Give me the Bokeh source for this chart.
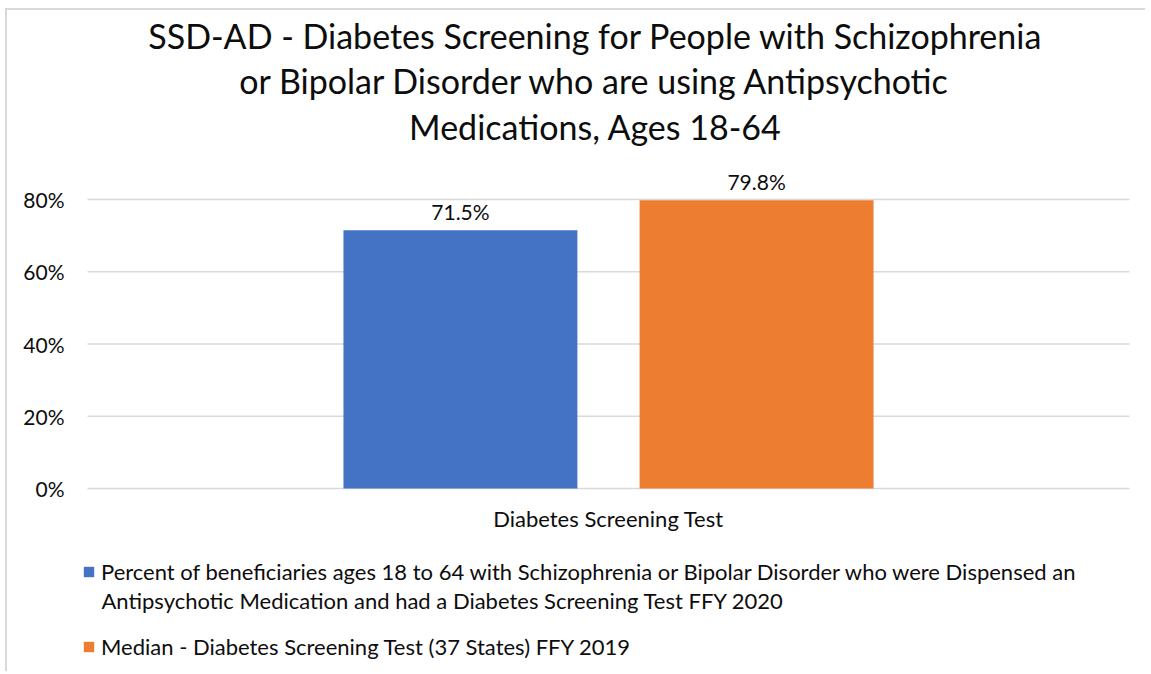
from bokeh.plotting import figure
from bokeh.models import (FactorRange, Range1d, FixedTicker, Label, LabelSet,
                          ColumnDataSource, Legend, LegendItem)
from bokeh.core.properties import value
from bokeh.transform import dodge
from bokeh.embed import file_html
from bokeh.resources import INLINE

# ---- data ----
categories = ["Diabetes Screening Test"]
state_values = [71.5]
median_values = [79.8]
state_labels = ["71.5%"]
median_labels = ["79.8%"]
series_names = [
    "Percent of beneficiaries ages 18 to 64 with Schizophrenia or Bipolar Disorder who were Dispensed an",
    "Median - Diabetes Screening Test (37 States) FFY 2019",
]
series_name_cont = "Antipsychotic Medication and had a Diabetes Screening Test FFY 2020"
y_ticks = [0, 20, 40, 60, 80]
y_tick_labels = ["0%", "20%", "40%", "60%", "80%"]
title_lines = [
    "SSD-AD - Diabetes Screening for People with Schizophrenia",
    "or Bipolar Disorder who are using Antipsychotic",
    "Medications, Ages 18-64",
]

FONT = "Lato"
TXT = "#0d0d0d"
BLUE = "#4472C4"
ORANGE = "#ED7D31"
GRID = "#d9d9d9"

# ---- layout (pixels) ----
W, H = 1140, 663
ORIG_X, ORIG_Y = 7, 10            # page position of the figure's content
AREA_L, AREA_R = 87, 1129         # plot area (page px)
AREA_T, AREA_B = 199, 488         # 80% line and 0% line (page px)
FR_L = 69                          # frame left (page px)
FR_R = ORIG_X + W
FR_T, FR_B = ORIG_Y, ORIG_Y + H
px_per_unit = (AREA_B - AREA_T) / 80.0
pad = (FR_R - AREA_R) / (AREA_R - AREA_L)
y_start = -(FR_B - AREA_B) / px_per_unit
y_end = (AREA_B - FR_T) / px_per_unit
TITLE_FS = 34
LEG_FS = 22

p = figure(width=W, height=H,
           x_range=FactorRange(factors=categories, range_padding=pad,
                               range_padding_units="absolute"),
           y_range=Range1d(y_start, y_end),
           output_backend="svg", toolbar_location=None,
           min_border_left=FR_L - ORIG_X, min_border_right=0,
           min_border_top=0, min_border_bottom=0)
p.styles = {"border-top": "2px solid #d9d9d9", "border-left": "2px solid #d9d9d9",
            "margin-left": "5px", "margin-top": "8px"}
p.outline_line_color = None
p.background_fill_color = "white"
p.border_fill_color = "white"
p.xaxis.visible = False
p.xgrid.grid_line_color = None
p.ygrid.grid_line_color = None

# gridlines across the category band
grid_src = ColumnDataSource(dict(cat=categories * len(y_ticks), y=y_ticks))
p.segment(x0=dodge("cat", -0.5, range=p.x_range), x1=dodge("cat", 0.5, range=p.x_range),
          y0="y", y1="y", source=grid_src, line_color=GRID, line_width=1.5)

src_a = ColumnDataSource(dict(cat=categories, value=state_values, label=state_labels))
src_b = ColumnDataSource(dict(cat=categories, value=median_values, label=median_labels))

BW = 0.2245
OFF = 0.1421
ra = p.vbar(x=dodge("cat", -OFF, range=p.x_range), top="value", width=BW,
            source=src_a, fill_color=BLUE, line_color=None)
rb = p.vbar(x=dodge("cat", OFF, range=p.x_range), top="value", width=BW,
            source=src_b, fill_color=ORANGE, line_color=None)

for src, off in ((src_a, -OFF), (src_b, OFF)):
    p.add_layout(LabelSet(x=dodge("cat", off, range=p.x_range), y="value", text="label",
                          source=src, text_align="center", text_baseline="alphabetic",
                          y_offset=10, text_font=value(FONT), text_font_size="21px",
                          text_color=TXT))

# category label
cat_src = ColumnDataSource(dict(cat=categories, y=[0] * len(categories)))
p.add_layout(LabelSet(x="cat", y="y", text="cat", source=cat_src, text_align="center",
                      text_baseline="alphabetic", y_offset=-38,
                      text_font=value(FONT), text_font_size="22px", text_color=TXT))

# y axis
p.yaxis.ticker = FixedTicker(ticks=y_ticks)
p.yaxis.major_label_overrides = {t: l for t, l in zip(y_ticks, y_tick_labels)}
p.yaxis.axis_line_color = None
p.yaxis.major_tick_line_color = None
p.yaxis.minor_tick_line_color = None
p.yaxis.major_tick_out = 0
p.yaxis.major_tick_in = 0
p.yaxis.major_label_text_font = FONT
p.yaxis.major_label_text_font_size = "21px"
p.yaxis.major_label_text_color = TXT
p.yaxis.major_label_standoff = FR_L - 64

# title
title_baselines = [49, 94, 140]
for line, base in zip(title_lines, title_baselines):
    p.add_layout(Label(x=595 - FR_L, y=FR_B - (base - 0.4 * TITLE_FS),
                       x_units="screen", y_units="screen",
                       text=line, text_align="center", text_baseline="alphabetic",
                       text_font=FONT, text_font_size=f"{TITLE_FS}px", text_color=TXT))

# legend
legend = Legend(items=[LegendItem(label=series_names[0], renderers=[ra]),
                       LegendItem(label=series_names[1], renderers=[rb])],
                location=(82 - FR_L, FR_B - 659.5), orientation="vertical",
                glyph_width=13, glyph_height=13, label_standoff=6,
                padding=0, margin=0, spacing=48,
                border_line_color=None, background_fill_alpha=0,
                label_text_font=FONT, label_text_font_size=f"{LEG_FS}px",
                label_text_color=TXT)
p.add_layout(legend)
p.add_layout(Label(x=101 - FR_L, y=FR_B - (609 - 0.4 * LEG_FS),
                   x_units="screen", y_units="screen",
                   text=series_name_cont, text_align="left", text_baseline="alphabetic",
                   text_font=FONT, text_font_size=f"{LEG_FS}px", text_color=TXT))

open("out.html", "w").write(file_html(p, INLINE))
